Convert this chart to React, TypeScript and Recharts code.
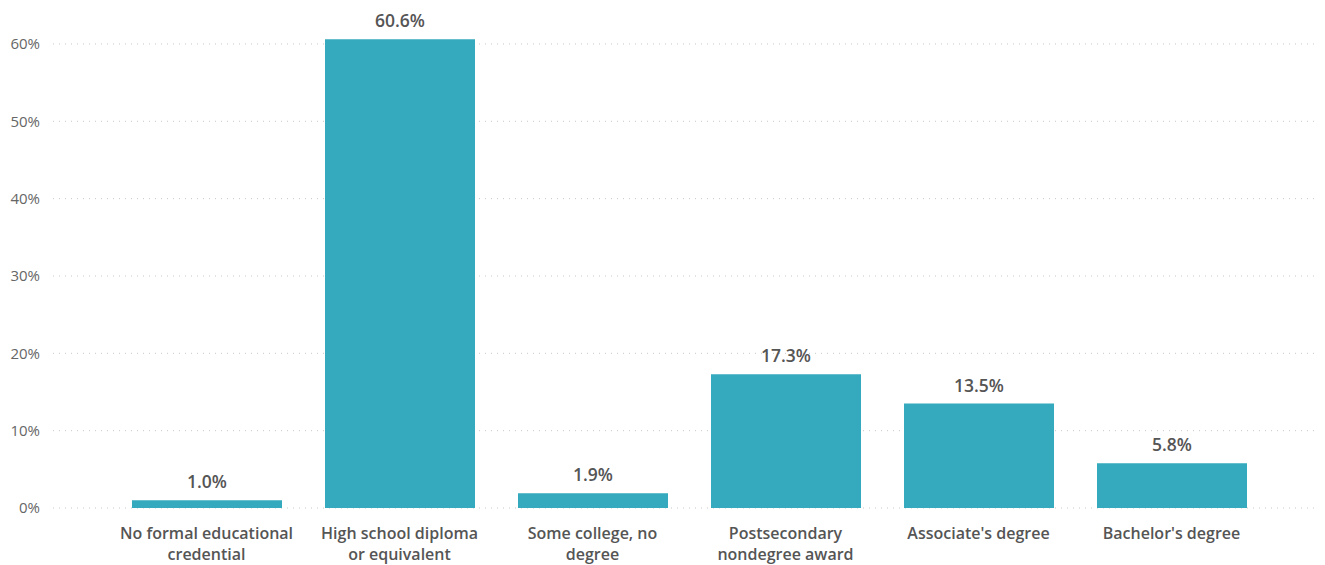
import React from "react";
import { BarChart, Bar, XAxis, YAxis, CartesianGrid, LabelList } from "recharts";

const categories = [
  "No formal educational credential",
  "High school diploma or equivalent",
  "Some college, no degree",
  "Postsecondary nondegree award",
  "Associate's degree",
  "Bachelor's degree",
];
const tickLines: string[][] = [
  ["No formal educational", "credential"],
  ["High school diploma", "or equivalent"],
  ["Some college, no", "degree"],
  ["Postsecondary", "nondegree award"],
  ["Associate's degree"],
  ["Bachelor's degree"],
];
const values = [1.0, 60.6, 1.9, 17.3, 13.5, 5.8];
const yTicks = [0, 10, 20, 30, 40, 50, 60];

const data = categories.map((c, i) => ({ name: c, value: values[i], idx: i }));

const FONT = "'Open Sans', 'Segoe UI', sans-serif";

const XTick = (props: any) => {
  const { x, y, index } = props;
  const lines = tickLines[index] || [props.payload.value];
  return (
    <g transform={`translate(${x},${y})`}>
      {lines.map((l, i) => (
        <text
          key={i}
          x={0}
          y={23 + i * 21}
          textAnchor="middle"
          fill="#555"
          fontSize={16}
          fontWeight={600}
          fontFamily={FONT}
        >
          {l}
        </text>
      ))}
    </g>
  );
};

export default function App() {
  return (
    <BarChart
      width={1317}
      height={557}
      data={data}
      margin={{ top: 5, right: 5, bottom: 0, left: 0 }}
    >
      <CartesianGrid
        vertical={false}
        stroke="#c8c8c8"
        strokeDasharray="1 5"
        syncWithTicks
      />
      <XAxis
        dataKey="name"
        axisLine={false}
        tickLine={false}
        height={57}
        interval={0}
        tick={<XTick />}
        padding={{ left: 57, right: 52 }}
      />
      <YAxis
        width={45}
        domain={[0, 64]}
        ticks={yTicks}
        axisLine={false}
        tickLine={false}
        tickSize={0}
        tickMargin={13}
        tickFormatter={(v: number) => `${v}%`}
        tick={{ fill: "#666", fontSize: 15, fontFamily: FONT }}
      />
      <Bar dataKey="value" fill="#35aabe" barSize={150} isAnimationActive={false}>
        <LabelList
          dataKey="value"
          position="top"
          offset={12}
          formatter={(v: any) => `${Number(v).toFixed(1)}%`}
          style={{ fill: "#555", fontSize: 17.5, fontWeight: 600, fontFamily: FONT }}
        />
      </Bar>
    </BarChart>
  );
}
